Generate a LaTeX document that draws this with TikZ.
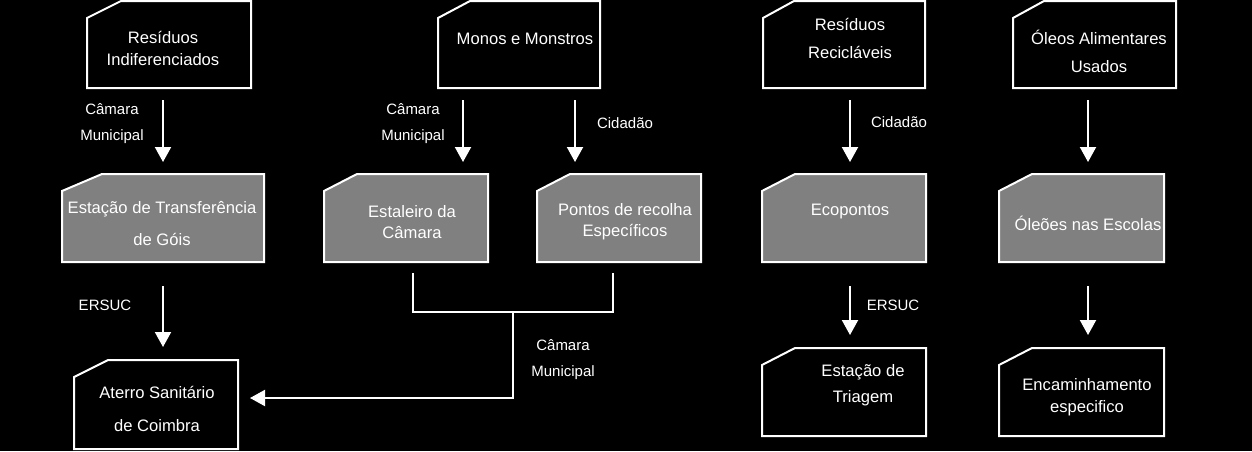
\documentclass[tikz,border=0pt]{standalone}
\usepackage{fontspec}
\setmainfont{Liberation Sans}
\usetikzlibrary{arrows.meta,calc}
\newcommand\drawcard[3][]{\draw[cardline,#1] (#2.south west) -- ([yshift=-17pt]#2.north west) -- ([xshift=#3]#2.north west) -- (#2.north east) -- (#2.south east) -- cycle;}
\begin{document}
\begin{tikzpicture}[x=1pt,y=-1pt,
 box/.style={inner sep=0pt, outer sep=0pt, minimum width=164pt, minimum height=88pt},
 cardline/.style={draw=white, line width=2pt},
 shade/.style={fill=gray},
 txt/.style={text=white, align=center, inner sep=0pt, font=\fontsize{16.6}{#1}\selectfont},
 txt/.default=22,
 lbl/.style={text=white, align=center, inner sep=0pt, font=\fontsize{15}{26}\selectfont},
 conn/.style={draw=white, line width=2pt},
 arr/.style={conn, -{Triangle[width=16pt,length=15pt]}},
]
\fill[black] (0,0) rectangle (1252,451);
% card nodes
\node[box,minimum width=164pt,minimum height=87pt] (b1) at (169,44.5) {};
\node[box,minimum width=162pt,minimum height=87pt] (b2) at (519,44.5) {};
\node[box,minimum width=162pt,minimum height=87pt] (b3) at (844,44.5) {};
\node[box,minimum width=163pt,minimum height=87pt] (b4) at (1094.5,44.5) {};
\node[box,minimum width=202pt] (b5) at (163,218) {};
\node[box] (b6) at (406,218) {};
\node[box] (b7) at (619,218) {};
\node[box] (b8) at (844,218) {};
\node[box,minimum width=165pt] (b9) at (1081.5,218) {};
\node[box,minimum height=89pt] (b10) at (156,404.5) {};
\node[box] (b11) at (844,392) {};
\node[box,minimum width=165pt] (b12) at (1081.5,392) {};
% card outlines
\drawcard{b1}{34pt}
\drawcard{b2}{32pt}
\drawcard{b3}{31pt}
\drawcard{b4}{31pt}
\drawcard[shade]{b5}{40pt}
\drawcard[shade]{b6}{33pt}
\drawcard[shade]{b7}{33pt}
\drawcard[shade]{b8}{33pt}
\drawcard[shade]{b9}{33pt}
\drawcard{b10}{34pt}
\drawcard{b11}{33pt}
\drawcard{b12}{33pt}
% card texts
\node[txt=22] (t1) at (163,48) {Resíduos\\Indiferenciados};
\node[txt] (t2) at (525,39) {Monos e Monstros};
\node[txt=28] (t3) at (850,38) {Resíduos\\Recicláveis};
\node[txt=28] (t4) at (1099,51) {Óleos Alimentares\\Usados};
\node[txt=32] (t5) at (162,224) {Estação de Transferência\\de Góis};
\node[txt=21] (t6) at (412,222) {Estaleiro da\\Câmara};
\node[txt=21] (t7) at (625,222) {Pontos de recolha\\Específicos};
\node[txt] (t8) at (850,212) {Ecopontos};
\node[txt] (t9) at (1088,223) {Óleões nas Escolas};
\node[txt=33] (t10) at (157,409) {Aterro Sanitário\\de Coimbra};
\node[txt=26] (t11) at (863,385) {Estação de\\Triagem};
\node[txt=22] (t12) at (1087,397) {Encaminhamento\\especifico};
% connector labels
\node[lbl] (l1) at (112,124) {Câmara\\Municipal};
\node[lbl] (l2) at (413,124) {Câmara\\Municipal};
\node[lbl] (l3) at (625,123) {Cidadão};
\node[lbl] (l4) at (899,122) {Cidadão};
\node[lbl] (l5) at (105,305) {ERSUC};
\node[lbl] (l6) at (893,305) {ERSUC};
\node[lbl] (l7) at (563,360) {Câmara\\Municipal};
% helper coordinates
\path ([xshift=57pt]b6.north) coordinate (a6)
      ([xshift=-44pt]b7.north) coordinate (a7)
      ([xshift=6pt]b8.north) coordinate (a8)
      ([xshift=6.5pt]b9.north) coordinate (a9)
      ([xshift=7pt,yshift=-11pt]b6.south) coordinate (p6)
      ([xshift=-6pt,yshift=-11pt]b7.south) coordinate (p7);
\coordinate (j) at ($(p6)!0.5!(p7)+(0,39)$);
% top arrows
\draw[arr, shorten <=12pt, shorten >=12pt] (b1.south -| b5.north) -- (b5.north);
\draw[arr, shorten <=12pt, shorten >=12pt] (b2.south -| a6) -- (a6);
\draw[arr, shorten <=12pt, shorten >=12pt] (b2.south -| a7) -- (a7);
\draw[arr, shorten <=12pt, shorten >=12pt] (b3.south -| a8) -- (a8);
\draw[arr, shorten <=12pt, shorten >=12pt] (b4.south -| a9) -- (a9);
% lower arrows
\draw[arr, shorten <=24pt, shorten >=13pt] (b5.south) -- (b5.south |- b10.north);
\draw[arr, shorten <=24pt, shorten >=13pt] (b8.south -| a8) -- (b11.north -| a8);
\draw[arr, shorten <=24pt, shorten >=13pt] (b9.south -| a9) -- (b12.north -| a9);
% bracket
\draw[conn] (p6) -- ++(0,39) -| (p7);
\draw[arr, shorten >=12pt] (j) |- ([yshift=6.5pt]b10.east);
\end{tikzpicture}
\end{document}
